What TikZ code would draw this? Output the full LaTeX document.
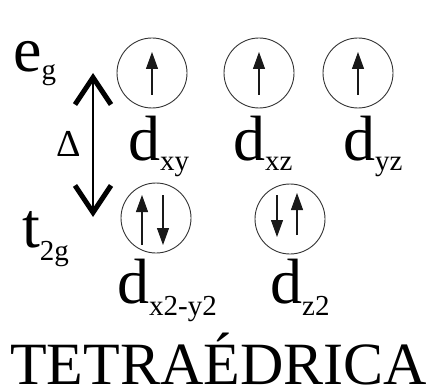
\documentclass[tikz,border=0pt]{standalone}
\usepackage{fontspec}
\setmainfont{Liberation Serif}
\usetikzlibrary{arrows.meta}
\newcommand\lowsub[2]{\raisebox{-#1}{\fontsize{29}{29}\selectfont #2}}
\begin{document}
\begin{tikzpicture}[x=1pt,y=-1pt,
  orb/.style={circle, draw=black!80, line width=0.9pt, minimum size=70pt, inner sep=0pt},
  spin/.style={line width=1.1pt, black!90, -{Triangle[width=12pt,length=17pt]}},
  lbl/.style={anchor=base west, inner sep=0pt, font=\fontsize{64}{64}\selectfont},
  gap/.style={line width=2.4pt, {Straight Barb[length=27pt,width=36pt,line width=5pt]}-{Straight Barb[length=27pt,width=36pt,line width=5pt]}}
]
\useasboundingbox (0,0) rectangle (438,390);
% level labels
\node[lbl] (eg) at (13,72) {e\lowsub{8pt}{g}};
\node[lbl] (t2g) at (22,247) {t\lowsub{13pt}{2g}};
% splitting arrow
\coordinate (dtop) at (93,73);
\coordinate (dbot) at (93,217);
\draw[gap] (dbot) -- (dtop);
\node[anchor=base west, inner sep=0pt, font=\fontsize{38}{38}\selectfont] (delta) at (56,157) {Δ};
% upper orbitals
\node[orb] (c1) at (152,73) {};
\node[orb] (c2) at (259,73) {};
\node[orb] (c3) at (358,73) {};
\draw[spin] ([yshift=-22pt]c1.center) -- ([yshift=21pt]c1.center);
\draw[spin] ([yshift=-22pt]c2.center) -- ([yshift=21pt]c2.center);
\draw[spin] ([yshift=-22pt]c3.center) -- ([yshift=21pt]c3.center);
\node[lbl] (dxy) at (128,160) {d\lowsub{10pt}{xy}};
\node[lbl] (dxz) at (233,160) {d\lowsub{10pt}{xz}};
\node[lbl] (dyz) at (343,160) {d\lowsub{10pt}{yz}};
% lower orbitals
\node[orb] (c4) at (156,218) {};
\node[orb] (c5) at (290,219) {};
\draw[spin] ([xshift=-14pt,yshift=-27pt]c4.center) -- ([xshift=-14pt,yshift=23pt]c4.center);
\draw[spin] ([xshift=7pt,yshift=23pt]c4.center) -- ([xshift=7pt,yshift=-27pt]c4.center);
\draw[spin] ([xshift=-13pt,yshift=24pt]c5.center) -- ([xshift=-13pt,yshift=-18pt]c5.center);
\draw[spin] ([xshift=7pt,yshift=-16pt]c5.center) -- ([xshift=7pt,yshift=26pt]c5.center);
\node[lbl] (dx2y2) at (117,303) {d\lowsub{12pt}{x2-y2}};
\node[lbl] (dz2) at (270,303) {d\lowsub{12pt}{z2}};
% title
\node[anchor=base west, inner sep=0pt, text depth=0pt, font=\fontsize{60}{60}\selectfont] (title) at (10,384) {TETRAÉDRICA};
\end{tikzpicture}
\end{document}
